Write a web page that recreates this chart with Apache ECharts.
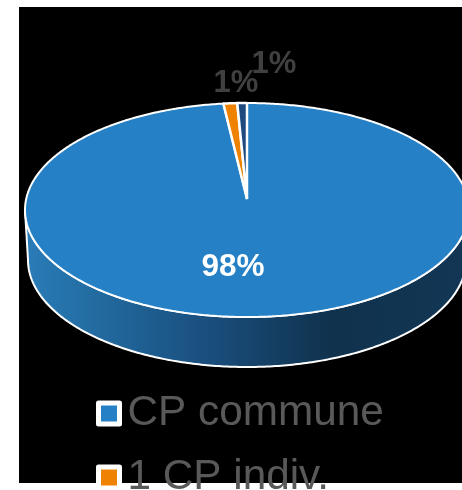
<!DOCTYPE html>
<html>
<head>
<meta charset="utf-8">
<style>html,body{margin:0;padding:0;background:#fff}#c{width:462px;height:490px}</style>
<script src="https://cdn.jsdelivr.net/npm/echarts@6/dist/echarts.min.js"></script>
</head>
<body>
<div id="c"></div>
<script>
const categories = ['CP commune', '1 CP indiv.', 'Autre'];
const legendItems = ['CP commune', '1 CP indiv.'];
const values = [98.3, 1.0, 0.7];
const labels = ['98%', '1%', '1%'];
const colors = ['#2580C6', '#EF8200', '#1F4A80'];

const total = values.reduce((a, b) => a + b, 0);
const upper = { cx: 247, cy: 210, rx: 222, ry: 107, apexY: 199 };
const lower = { cx: 247, cy: 260, rx: 219, ry: 107 };
const labelPos = [[233, 267], [236, 83], [274, 64]];
const labelStyle = [
  { fill: '#fff', size: 31.5 },
  { fill: '#404040', size: 31 },
  { fill: '#404040', size: 31 }
];
const legendTops = [388, 452];

function rimPoint(e, a) {
  return [e.cx + e.rx * Math.sin(a), e.cy - e.ry * Math.cos(a)];
}
function slicePoints(i) {
  let before = 0;
  for (let k = 0; k < i; k++) before += values[k];
  const a0 = before / total * 2 * Math.PI;
  const a1 = (before + values[i]) / total * 2 * Math.PI;
  const n = Math.max(2, Math.ceil((a1 - a0) / 0.01));
  const pts = [[upper.cx, upper.apexY]];
  for (let s = 0; s <= n; s++) pts.push(rimPoint(upper, a0 + (a1 - a0) * s / n));
  return pts;
}
function sidePoints() {
  const pts = [];
  const n = 240;
  for (let s = 0; s <= n; s++) pts.push(rimPoint(upper, Math.PI / 2 + Math.PI * s / n));
  for (let s = n; s >= 0; s--) pts.push(rimPoint(lower, Math.PI / 2 + Math.PI * s / n));
  return pts;
}
const sideFill = new echarts.graphic.LinearGradient(25, 0, 462, 0, [
  { offset: 0, color: '#2A7CB8' },
  { offset: 0.17, color: '#226A9F' },
  { offset: 0.4, color: '#1A5080' },
  { offset: 0.7, color: '#10324D' },
  { offset: 1, color: '#123654' }
], true);

function renderSlice(params) {
  const i = params.seriesIndex;
  const children = [];
  if (i === 0) {
    children.push({
      type: 'polygon', shape: { points: sidePoints() },
      style: { fill: sideFill, stroke: '#fff', lineWidth: 2 }
    });
  }
  children.push({
    type: 'polygon', shape: { points: slicePoints(i) },
    style: { fill: colors[i], stroke: '#fff', lineWidth: i === 0 ? 2 : 2.5, lineJoin: 'bevel' }
  });
  return { type: 'group', children };
}
function renderLabel() {
  return {
    type: 'group',
    children: labels.map((t, i) => ({
      type: 'text',
      x: labelPos[i][0], y: labelPos[i][1],
      style: {
        text: t, fill: labelStyle[i].fill,
        font: 'bold ' + labelStyle[i].size + 'px "Liberation Sans"',
        align: 'center', verticalAlign: 'middle'
      }
    }))
  };
}

const chart = echarts.init(document.getElementById('c'), null, { renderer: 'canvas' });
chart.setOption({
  animation: false,
  backgroundColor: '#fff',
  graphic: [{
    type: 'rect', z: -10, silent: true,
    shape: { x: 19, y: 7, width: 443, height: 476 },
    style: { fill: '#000' }
  }],
  legend: legendItems.map((name, i) => ({
    data: [name],
    orient: 'vertical',
    left: 96, top: legendTops[i],
    padding: 0,
    itemWidth: 21, itemHeight: 21,
    selectedMode: false,
    icon: 'rect',
    itemStyle: { borderColor: '#fff', borderWidth: 5, borderJoin: 'round' },
    textStyle: { color: '#595959', fontSize: 42.3, fontFamily: '"Liberation Sans"', lineHeight: 48, padding: [3, 0, 0, 3] }
  })),
  series: categories.map((name, i) => ({
    type: 'custom', name, coordinateSystem: 'none',
    data: [[values[i]]],
    itemStyle: { color: colors[i] },
    renderItem: renderSlice, silent: true, z: 2
  })).concat([{
    type: 'custom', name: 'labels', coordinateSystem: 'none',
    data: [[0]], renderItem: renderLabel, silent: true, z: 3
  }])
});
</script>
</body>
</html>
